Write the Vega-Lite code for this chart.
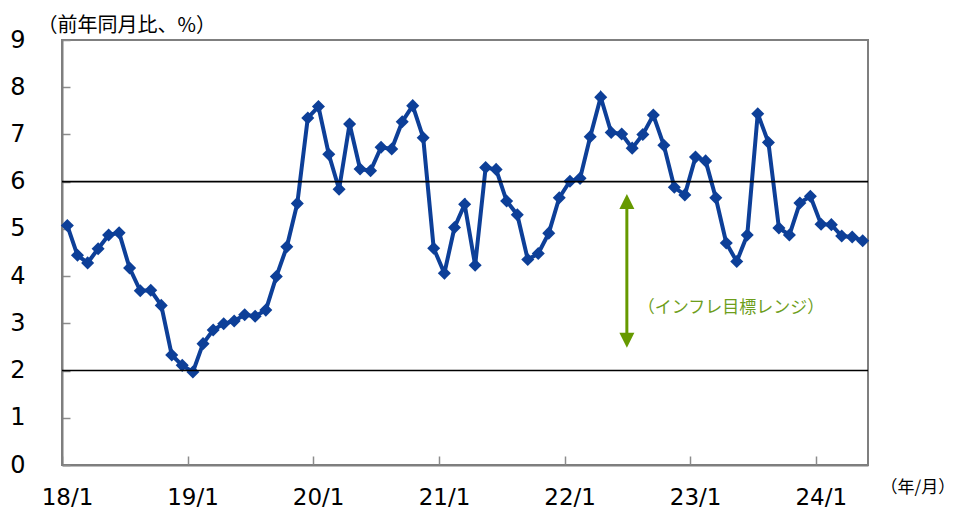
{
  "$schema": "https://vega.github.io/schema/vega-lite/v6.json",
  "width": 806,
  "height": 425,
  "autosize": {"type": "none"},
  "padding": {"left": 62, "top": 40, "right": 89, "bottom": 47},
  "background": "white",
  "config": {"view": {"stroke": "#7f7f7f", "strokeWidth": 2}, "font": "DejaVu Sans"},
  "datasets": {
    "cpi": [
      {"month": "2018-01-01", "v": 5.07}, {"month": "2018-02-01", "v": 4.44}, {"month": "2018-03-01", "v": 4.28}, {"month": "2018-04-01", "v": 4.58},
      {"month": "2018-05-01", "v": 4.87}, {"month": "2018-06-01", "v": 4.92}, {"month": "2018-07-01", "v": 4.17}, {"month": "2018-08-01", "v": 3.69},
      {"month": "2018-09-01", "v": 3.70}, {"month": "2018-10-01", "v": 3.38}, {"month": "2018-11-01", "v": 2.33}, {"month": "2018-12-01", "v": 2.11},
      {"month": "2019-01-01", "v": 1.97}, {"month": "2019-02-01", "v": 2.57}, {"month": "2019-03-01", "v": 2.86}, {"month": "2019-04-01", "v": 2.99},
      {"month": "2019-05-01", "v": 3.05}, {"month": "2019-06-01", "v": 3.18}, {"month": "2019-07-01", "v": 3.15}, {"month": "2019-08-01", "v": 3.28},
      {"month": "2019-09-01", "v": 3.99}, {"month": "2019-10-01", "v": 4.62}, {"month": "2019-11-01", "v": 5.54}, {"month": "2019-12-01", "v": 7.35},
      {"month": "2020-01-01", "v": 7.59}, {"month": "2020-02-01", "v": 6.58}, {"month": "2020-03-01", "v": 5.84}, {"month": "2020-04-01", "v": 7.22},
      {"month": "2020-05-01", "v": 6.27}, {"month": "2020-06-01", "v": 6.23}, {"month": "2020-07-01", "v": 6.73}, {"month": "2020-08-01", "v": 6.69},
      {"month": "2020-09-01", "v": 7.27}, {"month": "2020-10-01", "v": 7.61}, {"month": "2020-11-01", "v": 6.93}, {"month": "2020-12-01", "v": 4.59},
      {"month": "2021-01-01", "v": 4.06}, {"month": "2021-02-01", "v": 5.03}, {"month": "2021-03-01", "v": 5.52}, {"month": "2021-04-01", "v": 4.23},
      {"month": "2021-05-01", "v": 6.30}, {"month": "2021-06-01", "v": 6.26}, {"month": "2021-07-01", "v": 5.59}, {"month": "2021-08-01", "v": 5.30},
      {"month": "2021-09-01", "v": 4.35}, {"month": "2021-10-01", "v": 4.48}, {"month": "2021-11-01", "v": 4.91}, {"month": "2021-12-01", "v": 5.66},
      {"month": "2022-01-01", "v": 6.01}, {"month": "2022-02-01", "v": 6.07}, {"month": "2022-03-01", "v": 6.95}, {"month": "2022-04-01", "v": 7.79},
      {"month": "2022-05-01", "v": 7.04}, {"month": "2022-06-01", "v": 7.01}, {"month": "2022-07-01", "v": 6.71}, {"month": "2022-08-01", "v": 7.00},
      {"month": "2022-09-01", "v": 7.41}, {"month": "2022-10-01", "v": 6.77}, {"month": "2022-11-01", "v": 5.88}, {"month": "2022-12-01", "v": 5.72},
      {"month": "2023-01-01", "v": 6.52}, {"month": "2023-02-01", "v": 6.44}, {"month": "2023-03-01", "v": 5.66}, {"month": "2023-04-01", "v": 4.70},
      {"month": "2023-05-01", "v": 4.31}, {"month": "2023-06-01", "v": 4.87}, {"month": "2023-07-01", "v": 7.44}, {"month": "2023-08-01", "v": 6.83},
      {"month": "2023-09-01", "v": 5.02}, {"month": "2023-10-01", "v": 4.87}, {"month": "2023-11-01", "v": 5.55}, {"month": "2023-12-01", "v": 5.69},
      {"month": "2024-01-01", "v": 5.10}, {"month": "2024-02-01", "v": 5.09}, {"month": "2024-03-01", "v": 4.85}, {"month": "2024-04-01", "v": 4.83},
      {"month": "2024-05-01", "v": 4.75}
    ],
    "band": [{"v": 2}, {"v": 6}],
    "shaft": [{"month": "2022-07-01", "v": 2.64, "v2": 5.58}],
    "heads": [{"month": "2022-07-01", "v": 5.58, "dir": "up"}, {"month": "2022-07-01", "v": 2.64, "dir": "down"}],
    "note": [{"month": "2022-07-01", "v": 3.32, "label": "（インフレ目標レンジ）"}]
  },
  "layer": [
    {
      "data": {"name": "cpi"},
      "mark": {"type": "line", "color": "#0D3F98", "strokeWidth": 4},
      "encoding": {
        "x": {
          "field": "month", "timeUnit": "utcyearmonth", "type": "temporal", "bandPosition": 0.5,
          "scale": {"type": "utc", "domain": [{"year": 2018, "month": 1, "date": 1, "utc": true}, {"year": 2024, "month": 6, "date": 1, "utc": true}]},
          "axis": {
            "values": [
              {"year": 2018, "month": 1, "date": 1, "utc": true}, {"year": 2019, "month": 1, "date": 1, "utc": true},
              {"year": 2020, "month": 1, "date": 1, "utc": true}, {"year": 2021, "month": 1, "date": 1, "utc": true},
              {"year": 2022, "month": 1, "date": 1, "utc": true}, {"year": 2023, "month": 1, "date": 1, "utc": true},
              {"year": 2024, "month": 1, "date": 1, "utc": true}
            ],
            "labelExpr": "utcFormat(datum.value, '%y/%-m')",
            "labelOffset": 5, "labelFlush": false, "labelOverlap": false,
            "labelFont": "DejaVu Sans", "labelFontSize": 23, "labelColor": "#000000", "labelPadding": 30,
            "tickSize": -9, "tickColor": "#8c8c8c", "tickWidth": 1.5,
            "domainColor": "#7f7f7f", "domainWidth": 2, "grid": false,
            "title": "（年/月）", "titleFont": "Noto Sans CJK JP", "titleFontSize": 17, "titleFontWeight": "normal",
            "titleColor": "#000000", "titleAngle": 0, "titleAlign": "left", "titleBaseline": "middle", "titleX": 818, "titleY": 22
          }
        },
        "y": {
          "field": "v", "type": "quantitative",
          "scale": {"domain": [0, 9], "nice": false},
          "axis": {
            "values": [0, 1, 2, 3, 4, 5, 6, 7, 8, 9],
            "labelFont": "DejaVu Sans", "labelFontSize": 24, "labelColor": "#000000", "labelPadding": 45,
            "tickSize": -8, "tickColor": "#8c8c8c", "tickWidth": 1.5,
            "domainColor": "#7f7f7f", "domainWidth": 2, "grid": false,
            "title": "（前年同月比、%）", "titleFont": "Noto Sans CJK JP", "titleFontSize": 20, "titleFontWeight": "normal",
            "titleColor": "#000000", "titleAngle": 0, "titleAlign": "left", "titleBaseline": "middle", "titleX": -25, "titleY": -15
          }
        }
      }
    },
    {
      "data": {"name": "cpi"},
      "mark": {"type": "point", "shape": "diamond", "filled": true, "size": 170, "color": "#0D3F98", "opacity": 1},
      "encoding": {
        "x": {"field": "month", "timeUnit": "utcyearmonth", "type": "temporal", "bandPosition": 0.5},
        "y": {"field": "v", "type": "quantitative"}
      }
    },
    {
      "data": {"name": "band"},
      "mark": {"type": "rule", "color": "#000000", "strokeWidth": 1.6},
      "encoding": {"y": {"field": "v", "type": "quantitative"}}
    },
    {
      "data": {"name": "shaft"},
      "mark": {"type": "rule", "color": "#669900", "strokeWidth": 3},
      "encoding": {
        "x": {"field": "month", "timeUnit": "utcyearmonth", "type": "temporal", "bandPosition": 0},
        "y": {"field": "v", "type": "quantitative"},
        "y2": {"field": "v2"}
      }
    },
    {
      "data": {"name": "heads"},
      "mark": {"type": "point", "filled": true, "size": 225, "color": "#669900", "opacity": 1},
      "encoding": {
        "x": {"field": "month", "timeUnit": "utcyearmonth", "type": "temporal", "bandPosition": 0},
        "y": {"field": "v", "type": "quantitative"},
        "shape": {"field": "dir", "type": "nominal", "scale": {"domain": ["up", "down"], "range": ["M0,-1L1,1L-1,1Z", "M0,1L1,-1L-1,-1Z"]}, "legend": null}
      }
    },
    {
      "data": {"name": "note"},
      "mark": {"type": "text", "align": "left", "baseline": "middle", "dx": 11, "font": "Noto Sans CJK JP", "fontSize": 17, "color": "#6E9E1C"},
      "encoding": {
        "x": {"field": "month", "timeUnit": "utcyearmonth", "type": "temporal", "bandPosition": 0},
        "y": {"field": "v", "type": "quantitative"},
        "text": {"field": "label"}
      }
    }
  ]
}
